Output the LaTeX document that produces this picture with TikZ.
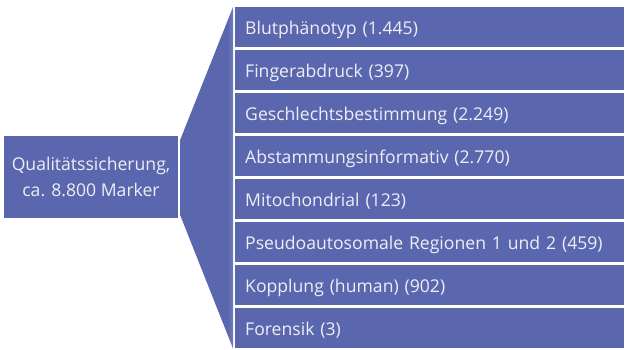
\documentclass[tikz,border=0pt]{standalone}
\usepackage{fontspec}
\setmainfont{Open Sans}
\usetikzlibrary{calc}
\definecolor{qsblue}{HTML}{5A67AE}
\definecolor{qstext}{HTML}{EEEEF4}
\pgfdeclarehorizontalshading{qsfade}{100bp}{color(0bp)=(qsblue); color(70bp)=(qsblue); color(100bp)=(qsblue!12)}
\tikzset{
  rowbox/.style={fill=qsblue, anchor=north west, text=qstext, text width=369pt, align=left,
    text height=15.5pt, text depth=0pt,
    minimum height=40pt, inner xsep=10pt, inner ysep=0pt, font=\fontsize{17.6}{20}\selectfont},
  mainbox/.style={fill=qsblue, text=qstext, align=center, minimum width=174pt,
    minimum height=82pt, inner sep=0pt, font=\fontsize{17.6}{26}\selectfont}
}
\begin{document}
\begin{tikzpicture}[x=1pt, y=-1pt]
  \useasboundingbox (0,0) rectangle (627,349);
  % main box
  \node[mainbox] (qs) at (91,177) {Qualitätssicherung,\\ca. 8.800 Marker};
  % marker groups
  \foreach \a [count=\n] in {Blutphänotyp (1.445),Fingerabdruck (397),Geschlechtsbestimmung (2.249),Abstammungsinformativ (2.770),Mitochondrial (123),Pseudoautosomale Regionen 1 und 2 (459),Kopplung (human) (902),Forensik (3)} {
    \node[rowbox] (row\n) at (235,{7+(\n-1)*43}) {\a};
  }
  % fan
  \shade[shading=qsfade] ([xshift=-2pt]row1.north west) -- ($(qs.north east)+(2,4)$)
    -- ($(qs.south east)+(2,-3)$) -- ([xshift=-2pt]row8.south west) -- cycle;
\end{tikzpicture}
\end{document}
